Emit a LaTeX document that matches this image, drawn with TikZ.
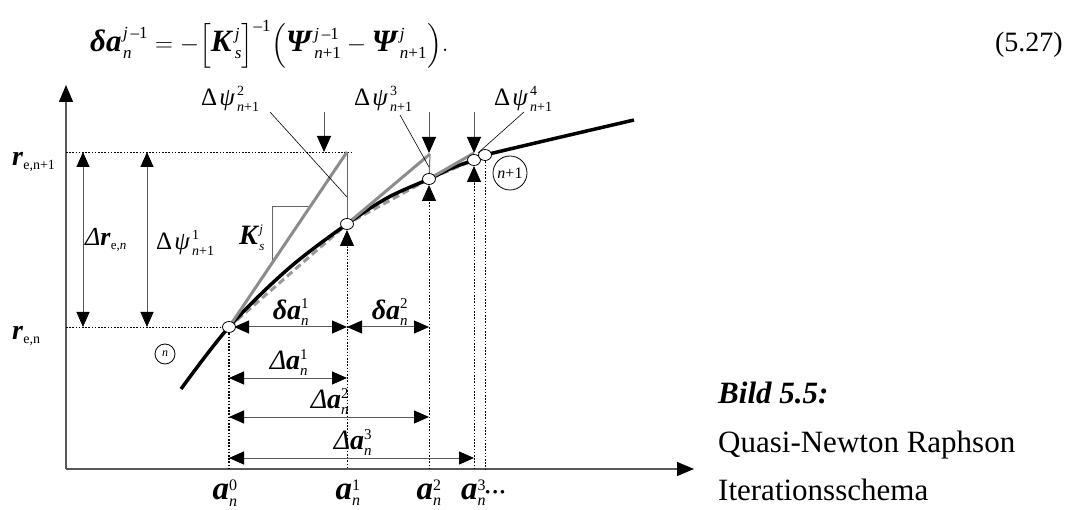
\documentclass[tikz,border=0pt]{standalone}
\usepackage{amsmath}
\usepackage{fontspec}
\setmainfont{Liberation Serif}
\usetikzlibrary{arrows.meta,shapes.geometric}

\newcommand\bi[1]{\textbf{\textit{#1}}}
\def\scrsize{13}
\newcommand\scr{\fontsize{\scrsize}{\scrsize}\selectfont}
\newcommand\lab[3]{$\mbox{#1}^{\mbox{\scr #2}}_{\mbox{\scr #3}}$}
\newcommand\labsub[2]{$\mbox{#1}_{\mbox{\scr #2}}$}
\newcommand\elab[3]{\mbox{#1\kern1.5pt}^{\mbox{\scr #2}}_{\mbox{\scr #3}}}

\begin{document}
\begin{tikzpicture}[x=1pt,y=-1pt,
  font=\fontsize{22}{24}\selectfont,
  axis/.style={draw=black!65, line width=1.3pt, -{Triangle[length=17pt,width=14pt,black]}},
  dim/.style={draw=black!65, line width=1pt, {Triangle[length=15pt,width=13pt,black]}-{Triangle[length=15pt,width=13pt,black]}},
  downarr/.style={draw=black!65, line width=1pt, -{Triangle[length=16pt,width=14pt,black]}},
  dots/.style={draw=black, line width=0.8pt, dash pattern=on 1.6pt off 1.6pt},
  thickdots/.style={draw=black, line width=1.2pt, dash pattern=on 1.6pt off 1.6pt},
  tangent/.style={draw=black!45, line width=3pt},
  chord/.style={draw=black!40, line width=3pt, dash pattern=on 7pt off 4pt},
  curve/.style={draw=black, line width=3.5pt},
  thinline/.style={draw=black, line width=0.6pt},
  grayline/.style={draw=black!60, line width=1pt},
  pt/.style={ellipse, draw=black, fill=white, line width=0.8pt, minimum width=13pt, minimum height=11pt, inner sep=0pt},
  lbl/.style={inner sep=0pt},
  psilbl/.style={inner sep=0pt, font=\fontsize{25}{27}\selectfont\def\scrsize{14}},
  albl/.style={inner sep=0pt, font=\fontsize{28}{30}\selectfont\def\scrsize{15}},
  blbl/.style={inner sep=0pt, font=\fontsize{33}{35}\selectfont\def\scrsize{16}},
  rlbl/.style={inner sep=0pt, font=\fontsize{28}{30}\selectfont\def\scrsize{14}},
  circ/.style={circle, draw=black, line width=0.8pt, inner sep=0pt}
]
\useasboundingbox (0,0) rectangle (1070,510);

% equation
\node[lbl, anchor=base west, font=\fontsize{31}{33}\selectfont\def\scrsize{17}] (eq) at (90,52) {%
 $\elab{\bi{δa}}{\textit{j}\,–1}{\textit{n}} = -\Bigl[\elab{\bi{K}}{\textit{j}}{\textit{s}}\Bigr]^{\mbox{\scr –1}}\Bigl(\elab{\bi{Ψ}}{\textit{j}\,–1}{\textit{n}+1} - \elab{\bi{Ψ}}{\textit{j}}{\textit{n}+1}\Bigr).$};
\node[lbl, anchor=base east] (eqno) at (1063,52) {\fontsize{28}{30}\selectfont (5.27)};

% key coordinates
\coordinate (O) at (66,469);
\coordinate (ytip) at (66,85);
\coordinate (xtip) at (694,469);
\coordinate (c0) at (181,389);
\coordinate (p0) at (229,327);
\coordinate (m01) at (288,269);
\coordinate (p1) at (347,224);
\coordinate (m12) at (388,197.5);
\coordinate (p2) at (429,179);
\coordinate (m23) at (452,168);
\coordinate (p3) at (474,160);
\coordinate (p4) at (485,155);
\coordinate (c5) at (634,120);

% axes
\draw[axis] (O) -- (ytip);
\draw[axis] (O) -- (xtip);

% dotted guide lines
\coordinate (h1a) at (66,152); \coordinate (h1b) at (353,152);
\coordinate (h0a) at (66,327);
\draw[dots] (h1a) -- (h1b);
\draw[dots] (h0a) -- (p0);
\coordinate (v0b) at (229,469);
\draw[thickdots] (p0) -- (v0b);
\coordinate (u1) at (347,246); \coordinate (u1t) at (347,230); \coordinate (v1b) at (347,469);
\coordinate (u2) at (429,199); \coordinate (u2t) at (429,185); \coordinate (v2b) at (429,469);
\coordinate (u3) at (474,183); \coordinate (u3t) at (474,166); \coordinate (v3b) at (474,469);
\coordinate (v4b) at (485,469);
\draw[dots] (u1) -- (v1b);
\draw[dots] (u2) -- (v2b);
\draw[dots] (u3) -- (v3b);
\draw[dots] (p4) -- (v4b);

% slope triangle
\coordinate (k1) at (272,263); \coordinate (k2) at (272,206); \coordinate (k3) at (310,206);
\draw[grayline, line width=0.8pt] (k1) -- (k2) -- (k3);

% vertical residual lines
\coordinate (t1) at (347,152);
\coordinate (t2) at (430,154);
\coordinate (t3) at (474,153);
\draw[grayline] (t1) -- (p1);
\draw[grayline] (t2) -- (p2);

% chords, curve, tangents
\draw[chord] (p0) -- (p1) -- (p2) -- (p3);
\draw[curve] plot[smooth, tension=0.55] coordinates {(c0) (p0) (m01) (p1) (m12) (p2) (m23) (p3) (p4) (c5)};
\draw[tangent] (p0) -- (t1);
\draw[tangent] (p1) -- (t2);
\draw[tangent] (p2) -- (t3);

% leader lines
\coordinate (l2a) at (270,112); \coordinate (l2b) at (347,197);
\coordinate (l3a) at (400,115); \coordinate (l3b) at (429,167);
\coordinate (l4a) at (524,112); \coordinate (l4b) at (478,153);
\draw[thinline] (l2a) -- (l2b);
\draw[thinline] (l3a) -- (l3b);
\draw[thinline] (l4a) -- (l4b);

% down arrows
\coordinate (d1a) at (324,112); \coordinate (d1b) at (324,152);
\coordinate (d2a) at (429,112); \coordinate (d2b) at (429,153);
\coordinate (d3a) at (474,112); \coordinate (d3b) at (474,153);
\draw[downarr] (d1a) -- (d1b);
\draw[downarr] (d2a) -- (d2b);
\draw[downarr] (d3a) -- (d3b);
% up arrows
\draw[downarr] (u1) -- (u1t);
\draw[downarr] (u2) -- (u2t);
\draw[downarr] (u3) -- (u3t);

% vertical dimension arrows
\coordinate (r1a) at (83,152); \coordinate (r1b) at (83,327);
\coordinate (r2a) at (147,152); \coordinate (r2b) at (147,327);
\draw[dim] (r1a) -- (r1b);
\draw[dim] (r2a) -- (r2b);

% horizontal dimension arrows
\coordinate (a0) at (234,327); \coordinate (a1) at (347,327); \coordinate (a2) at (429,327);
\draw[dim] (a0) -- (a1);
\draw[dim] (a1) -- (a2);
\coordinate (b0) at (229,378); \coordinate (b1) at (347,378);
\draw[dim] (b0) -- (b1);
\coordinate (c0a) at (229,417); \coordinate (c2) at (429,417);
\draw[dim] (c0a) -- (c2);
\coordinate (d0) at (229,458); \coordinate (d3) at (474,458);
\draw[dim] (d0) -- (d3);

% points
\node[pt] (e0) at (p0) {};
\node[pt] (e1) at (p1) {};
\node[pt] (e2) at (p2) {};
\node[pt] (e3) at (p3) {};
\node[pt] (e4) at (p4) {};

% circled labels
\node[circ, minimum size=20pt] (cn) at (165,354) {\fontsize{12}{12}\selectfont\textit{n}};
\node[circ, minimum size=34pt] (cn1) at (510,173) {\fontsize{16}{16}\selectfont\textit{n}+1};

% labels
\node[psilbl, anchor=west] (Lpsi2) at (201,99) {\lab{Δ\kern2pt\textit{ψ}\kern2pt}{2}{\textit{n}+1}};
\node[psilbl, anchor=west] (Lpsi3) at (354,99) {\lab{Δ\kern2pt\textit{ψ}\kern2pt}{3}{\textit{n}+1}};
\node[psilbl, anchor=west] (Lpsi4) at (494,99) {\lab{Δ\kern2pt\textit{ψ}\kern2pt}{4}{\textit{n}+1}};
\node[psilbl, anchor=west] (Lpsi1) at (156,243) {\lab{Δ\kern2pt\textit{ψ}\kern2pt}{1}{\textit{n}+1}};
\node[rlbl, anchor=west, font=\fontsize{26}{28}\selectfont] (Ldr) at (85,240) {\labsub{\textit{Δ}\bi{r}}{e,\textit{n}}};
\node[rlbl, anchor=west, font=\fontsize{28}{30}\selectfont\def\scrsize{13}] (LK) at (239,238) {\lab{\bi{K}}{\textit{j}}{\textit{s}}};
\node[rlbl, anchor=west] (Lr1) at (12,162) {\labsub{\bi{r}}{e,n+1}};
\node[rlbl, anchor=west] (Lr0) at (12,336) {\labsub{\bi{r}}{e,n}};

\node[albl, anchor=south] (Lda1) at (291,326) {\lab{\bi{δa}}{1}{\textit{n}}};
\node[albl, anchor=south] (Lda2) at (390,326) {\lab{\bi{δa}}{2}{\textit{n}}};
\node[albl, anchor=south] (LDa1) at (289,376) {\lab{\textit{Δ}\bi{a}}{1}{\textit{n}}};
\node[albl, anchor=south] (LDa2) at (330,415) {\lab{\textit{Δ}\bi{a}}{2}{\textit{n}}};
\node[albl, anchor=south] (LDa3) at (353,456) {\lab{\textit{Δ}\bi{a}}{3}{\textit{n}}};

\node[blbl, anchor=north] (La0) at (225,480) {\lab{\bi{a}}{0}{\textit{n}}};
\node[blbl, anchor=north] (La1) at (348,480) {\lab{\bi{a}}{1}{\textit{n}}};
\node[blbl, anchor=north] (La2) at (429,480) {\lab{\bi{a}}{2}{\textit{n}}};
\node[blbl, anchor=north west] (La3) at (461,480) {\lab{\bi{a}}{3}{\textit{n}}\kern-2pt{\fontsize{22}{22}\selectfont\textbf{···}}};

% caption
\node[lbl, anchor=base west, font=\fontsize{31}{34}\selectfont] (cap1) at (718,403) {\bi{Bild 5.5:}};
\node[lbl, anchor=base west, font=\fontsize{31}{34}\selectfont] (cap2) at (718,452) {Quasi-Newton Raphson};
\node[lbl, anchor=base west, font=\fontsize{31}{34}\selectfont] (cap3) at (718,500) {Iterationsschema};
\end{tikzpicture}
\end{document}
